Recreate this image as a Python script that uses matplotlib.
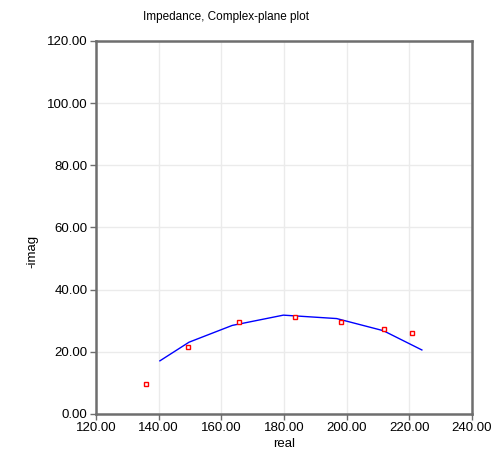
import matplotlib
matplotlib.use("Agg")
import matplotlib.pyplot as plt

plt.rcParams['font.family'] = ['Liberation Sans', 'DejaVu Sans']

meas_real = [136.0, 149.5, 165.6, 183.6, 198.2, 211.8, 221.0]
meas_imag = [9.5, 21.5, 29.7, 31.1, 29.6, 27.5, 26.0]
fit_real = [140.4, 149.7, 163.5, 179.8, 196.8, 211.7, 224.0]
fit_imag = [17.1, 23.1, 28.5, 31.8, 30.7, 26.8, 20.6]
xticks = [120, 140, 160, 180, 200, 220, 240]
yticks = [0, 20, 40, 60, 80, 100, 120]

fig = plt.figure(figsize=(4.96, 4.58), dpi=100)
ax = fig.add_axes([0.1935, 0.0961, 0.7581, 0.8144])
ax.plot(fit_real, fit_imag, color='#0000ff', lw=1.0, zorder=3)
ax.plot(meas_real, meas_imag, ls='none', marker='s', ms=3.0, mfc='white',
        mec='#ff0000', mew=1.0, zorder=4)
ax.set_xlim(120, 240)
ax.set_ylim(0, 120)
ax.set_xticks(xticks)
ax.set_yticks(yticks)
ax.set_xticklabels([f"{v:.2f}" for v in xticks], fontsize=9.5)
ax.set_yticklabels([f"{v:.2f}" for v in yticks], fontsize=9.5)
ax.grid(True, color='#ebebeb', lw=1.0)
ax.set_axisbelow(True)
for s in ax.spines.values():
    s.set_color('#6e6e6e')
    s.set_linewidth(1.8)
ax.tick_params(length=4, width=1, color='#6e6e6e', pad=2)
ax.set_xlabel('real', fontsize=9.5, labelpad=3)
ax.set_ylabel('-imag', fontsize=9.5)
ax.yaxis.set_label_coords(-0.152, 0.437)
fig.text(0.455, 0.962, 'Impedance, Complex-plane plot', fontsize=8.5, ha='center', va='center')
fig.savefig('out.png', dpi=100)
